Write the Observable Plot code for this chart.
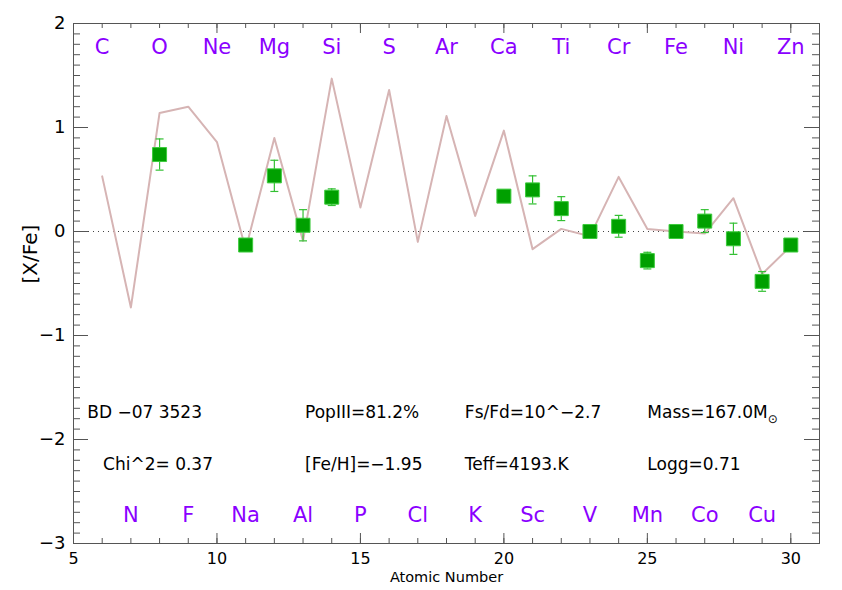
<!DOCTYPE html>
<html><head><meta charset="utf-8">
<script src="https://cdn.jsdelivr.net/npm/d3@7"></script>
<script src="https://cdn.jsdelivr.net/npm/@observablehq/plot@0.6"></script>
<style>body{margin:0;background:#fff}</style>
</head><body><div id="chart"></div>
<script>
// Model yields (line)
const modelZ = [6,7,8,9,10,11,12,13,14,15,16,17,18,19,20,21,22,23,24,25,26,27,28,29,30];
const modelXFe = [0.53,-0.73,1.14,1.20,0.86,-0.17,0.90,-0.09,1.47,0.23,1.36,-0.10,1.11,0.15,0.97,-0.17,0.025,-0.045,0.525,0.025,0.0,-0.02,0.32,-0.41,-0.14];
// Observed abundances
const obsZ   = [8,11,12,13,14,20,21,22,23,24,25,26,27,28,29,30];
const obsXFe = [0.74,-0.13,0.535,0.06,0.33,0.34,0.40,0.22,0.0,0.05,-0.28,0.0,0.10,-0.07,-0.48,-0.13];
const obsErr = [0.15,0,0.15,0.15,0.08,0,0.135,0.115,0,0.105,0.08,0,0.11,0.15,0.095,0];
// Element labels
const topElements = ["C","O","Ne","Mg","Si","S","Ar","Ca","Ti","Cr","Fe","Ni","Zn"];
const topZ = [6,8,10,12,14,16,18,20,22,24,26,28,30];
const bottomElements = ["N","F","Na","Al","P","Cl","K","Sc","V","Mn","Co","Cu"];
const bottomZ = [7,9,11,13,15,17,19,21,23,25,27,29];
// Fit info text
const infoText = ["BD −07 3523","PopIII=81.2%","Fs/Fd=10^−2.7","Mass=167.0M","Chi^2= 0.37","[Fe/H]=−1.95","Teff=4193.K","Logg=0.71"];
const infoX = [5.48,13.07,18.64,25.0,6.03,13.07,18.64,25.0];
const infoY = [-1.74,-1.74,-1.74,-1.74,-2.24,-2.24,-2.24,-2.24];
// Axis ticks
const xMajor = [5,10,15,20,25,30];
const yMajor = [-3,-2,-1,0,1,2];
const xMinor = d3.range(5,32,1);
const yMinor = d3.range(-30,21,1).map(v=>v/10);

const W = 842, H = 590, mL = 73, mR = 23, mT = 23, mB = 47;
const FW = W - mL - mR, FH = H - mT - mB;
const axisColor = "#555";
const purple = "#8A00FF";

const model = modelZ.map((z,i)=>({z, v: modelXFe[i]}));
const obs = obsZ.map((z,i)=>({z, v: obsXFe[i], e: obsErr[i]}));
const obsE = obs.filter(d=>d.e>0);
const capSymbol = {draw(ctx, size){ const w = Math.sqrt(size)/2; ctx.moveTo(-w,0); ctx.lineTo(w,0); }};

const plot = Plot.plot({
  width: W, height: H,
  marginLeft: mL, marginRight: mR, marginTop: mT, marginBottom: mB,
  style: {fontFamily: "DejaVu Sans, sans-serif", fontSize: "16px", background: "#fff", color: "#000"},
  x: {domain: [5,31]},
  y: {domain: [-3,2]},
  marks: [
    Plot.ruleY([0], {stroke: "#444", strokeDasharray: "1,4", strokeWidth: 1}),
    // inward ticks
    Plot.tickY(yMinor, {y: d=>d, insetRight: FW-7, stroke: axisColor}),
    Plot.tickY(yMinor, {y: d=>d, insetLeft: FW-7, stroke: axisColor}),
    Plot.tickY(yMajor, {y: d=>d, insetRight: FW-15, stroke: axisColor}),
    Plot.tickY(yMajor, {y: d=>d, insetLeft: FW-15, stroke: axisColor}),
    Plot.tickX(xMinor, {x: d=>d, insetTop: FH-5, stroke: axisColor}),
    Plot.tickX(xMinor, {x: d=>d, insetBottom: FH-5, stroke: axisColor}),
    Plot.tickX(xMajor, {x: d=>d, insetTop: FH-10, stroke: axisColor}),
    Plot.tickX(xMajor, {x: d=>d, insetBottom: FH-10, stroke: axisColor}),
    Plot.frame({stroke: axisColor, strokeWidth: 1}),
    Plot.axisY(yMajor, {tickSize: 0, tickPadding: 8, fontSize: 18, label: null, tickFormat: d3.format("d")}),
    Plot.axisX(xMajor, {tickSize: 0, tickPadding: 9, fontSize: 16, label: null, tickFormat: d3.format("d")}),
    Plot.text(["Atomic Number"], {frameAnchor: "bottom", dy: 38, text: d=>d, fontSize: 14.5, fontWeight: "normal"}),
    Plot.text(["[X/Fe]"], {frameAnchor: "left", dx: -43, rotate: -90, text: d=>d, fontSize: 20}),
    // model line
    Plot.line(model, {x: "z", y: "v", stroke: "#D6B4B4", strokeWidth: 2}),
    // error bars
    Plot.ruleX(obsE, {x: "z", y1: d=>d.v-d.e, y2: d=>d.v+d.e, stroke: "#33C033", strokeWidth: 1.2}),
    Plot.dot(obsE, {x: "z", y: d=>d.v-d.e, symbol: capSymbol, r: 4.5, stroke: "#33C033", strokeWidth: 1.2}),
    Plot.dot(obsE, {x: "z", y: d=>d.v+d.e, symbol: capSymbol, r: 4.5, stroke: "#33C033", strokeWidth: 1.2}),
    Plot.dot(obs, {x: "z", y: "v", symbol: "square", r: 7.9, fill: "#00A000", stroke: "#3CCB3C", strokeWidth: 1}),
    // element labels
    Plot.text(topElements, {x: (d,i)=>topZ[i], y: ()=>1.77, text: d=>d, fill: purple, fontSize: 21}),
    Plot.text(bottomElements, {x: (d,i)=>bottomZ[i], y: ()=>-2.73, text: d=>d, fill: purple, fontSize: 21}),
    // info text
    Plot.text(infoText, {x: (d,i)=>infoX[i], y: (d,i)=>infoY[i], text: d=>d, textAnchor: "start", fontSize: 17, fill: "#000"})
  ]
});
d3.select(plot).selectAll("text").filter(function(){ return this.textContent === "Mass=167.0M"; })
  .append("tspan").attr("font-size", 12).attr("dy", "0.45em").text("⊙");
document.getElementById("chart").appendChild(plot);
</script>
</body></html>
